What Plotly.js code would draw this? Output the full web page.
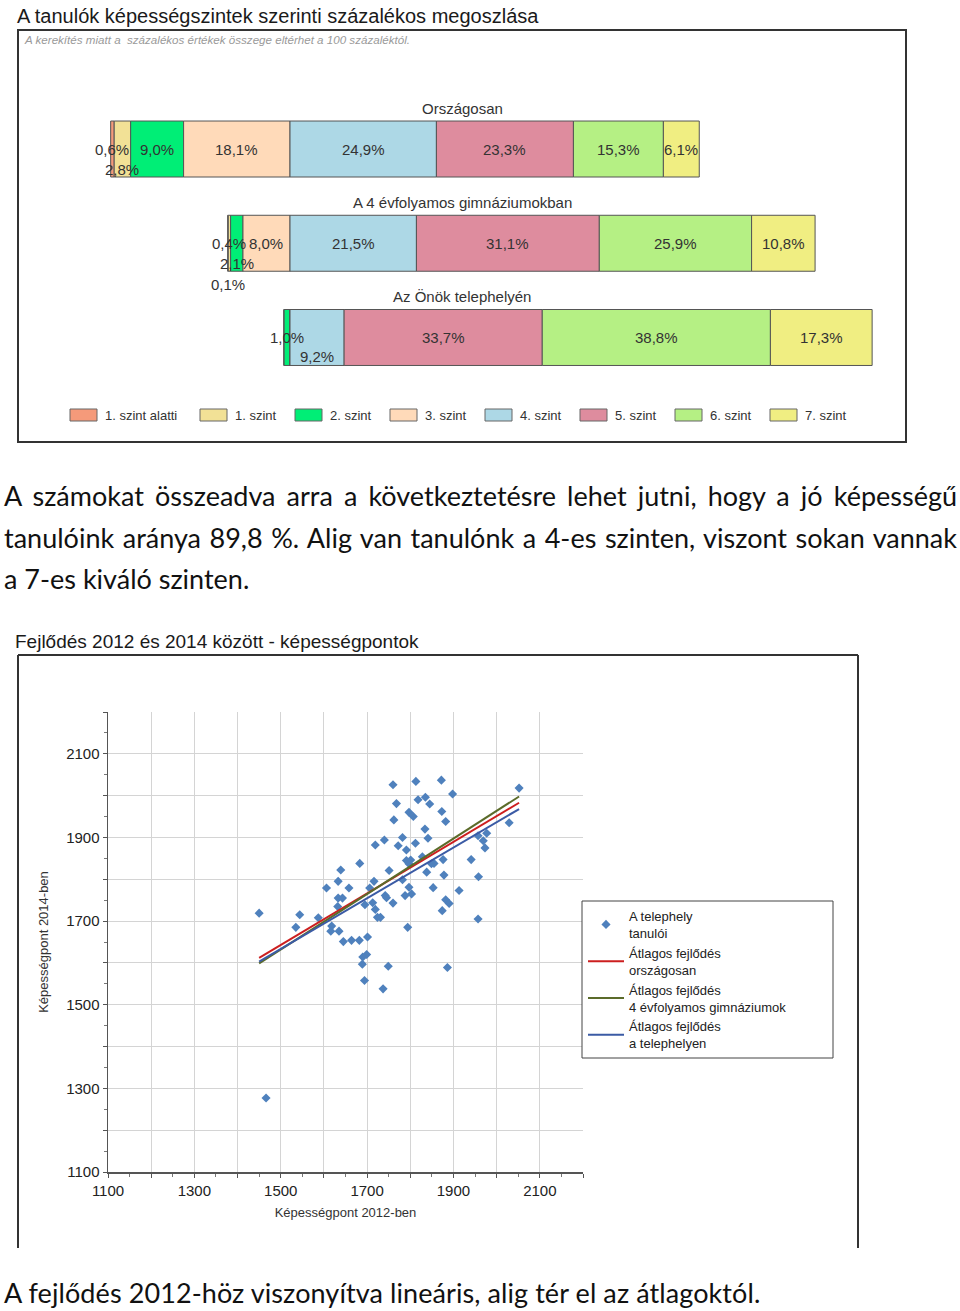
<!DOCTYPE html>
<html><head><meta charset="utf-8">
<script src="https://cdn.plot.ly/plotly-3.0.1.min.js"></script>
<style>
html,body{margin:0;padding:0;background:#fff;}
body{width:960px;height:1311px;position:relative;overflow:hidden;}
#c1{position:absolute;left:0;top:0;width:960px;height:450px;}
#c2{position:absolute;left:0;top:620px;width:960px;height:640px;}
.p{position:absolute;left:4px;width:953px;font-family:Lato,'Noto Sans',sans-serif;font-size:27px;line-height:41.5px;color:#111;}
.p span{white-space:nowrap;}
</style></head><body>
<div id="c1"></div>
<div class="p j" style="top:475px"><span>A számokat összeadva arra a következtetésre lehet jutni, hogy a jó képességű</span></div>
<div class="p j" style="top:516.5px"><span>tanulóink aránya 89,8 %. Alig van tanulónk a 4-es szinten, viszont sokan vannak</span></div>
<div class="p" style="top:558px"><span>a 7-es kiváló szinten.</span></div>
<div id="c2"></div>
<div class="p" style="top:1272px"><span style="letter-spacing:0.09px">A fejlődés 2012-höz viszonyítva lineáris, alig tér el az átlagoktól.</span></div>
<script>
// ---------- Chart 1 data ----------
const levels = ['1. szint alatti','1. szint','2. szint','3. szint','4. szint','5. szint','6. szint','7. szint'];
const groups = ['Országosan','A 4 évfolyamos gimnáziumokban','Az Önök telephelyén'];
const orszagos = [0.6, 2.8, 9.0, 18.1, 24.9, 23.3, 15.3, 6.1];
const gimn     = [0.1, 0.4, 2.1, 8.0, 21.5, 31.1, 25.9, 10.8];
const telep    = [0, 0, 1.0, 0, 9.2, 33.7, 38.8, 17.3];

// ---------- Chart 2 data ----------
const x2012 = [1450,1535,1544,1587,1606,1618,1616,1633,1639,1633,1643,1632,1635,1645,1658,1664,1682,1683,1701,1690,1699,1689,1694,1737,1749,1695,1706,1716,1713,1719,1724,1731,1719,1740,1742,1745,1751,1760,1760,1768,1762,1772,1782,1782,1788,1794,1791,1791,1797,1801,1797,1803,1797,1807,1812,1813,1818,1828,1834,1835,1845,1841,1838,1849,1855,1853,1872,1873,1882,1876,1878,1874,1882,1890,1886,1898,1913,1941,1957,1958,1957,1969,1973,1977,2029,2052,1466];
const y2014 = [1719,1685,1715,1708,1779,1688,1676,1795,1822,1755,1755,1735,1676,1651,1779,1654,1654,1838,1662,1614,1620,1597,1558,1538,1592,1739,1779,1795,1744,1728,1709,1709,1882,1894,1761,1756,1821,1743,2026,1981,1942,1880,1900,1799,1761,1685,1870,1845,1837,1846,1781,1765,1960,1950,1886,2034,1990,1854,1920,1996,1980,1898,1817,1837,1838,1780,2037,1962,1938,1847,1810,1725,1751,1742,1589,2004,1773,1847,1904,1806,1705,1892,1875,1910,1935,2018,1277];
const trendX = [1450, 2052];
const trendOrszagos = [1612, 1983];
const trendGimn = [1599, 1998];
const trendTelep = [1603, 1968];
const axisTicks = [1100,1200,1300,1400,1500,1600,1700,1800,1900,2000,2100,2200];
const axisTickLabels = ['1100','','1300','','1500','','1700','','1900','','2100',''];
const seriesNames = ['A telephely<br>tanulói','Átlagos fejlődés<br>országosan','Átlagos fejlődés<br>4 évfolyamos gimnáziumok','Átlagos fejlődés<br>a telephelyen'];

// ---------- styles ----------
const FONT = 'Arial, "Liberation Sans", sans-serif';
const levelColors = ['#F59A7A','#F2E196','#00EE76','#FFDAB9','#ADD8E6','#DE8C9E','#B5F084','#F0EE82'];
const labelDrop = [[0,20,0,0,0,0,0,0],[41,0,20,0,0,0,0,0],[0,0,0,0,19,0,0,0]];
const legendX1 = [70,200,295,390,485,580,675,770];

const rows = [orszagos, gimn, telep];
const pivot = 4;
function bases(vals){
  return vals.map((v,i)=>{
    let s=0;
    if(i<pivot){ for(let k=i;k<pivot;k++) s+=vals[k]; return -s; }
    for(let k=pivot;k<i;k++) s+=vals[k]; return s;
  });
}
const rowBases = rows.map(bases);
const fmt = v => v.toFixed(1).replace('.',',') + '%';

const traces1 = levels.map((lv,i)=>({
  type:'bar', orientation:'h', name:lv, y:groups,
  x: rows.map(r=>r[i]), base: rowBases.map(b=>b[i]),
  width:0.594, marker:{color:levelColors[i], line:{color:'#555', width:1}},
  hoverinfo:'skip', showlegend:false
}));

// paper helpers chart 1 (plot area = frame)
const P1 = {L:18,T:30,W:888,H:412};
const px1 = x => (x-P1.L)/P1.W;
const py1 = y => (P1.T+P1.H-y)/P1.H;

const ann1 = [];
rows.forEach((r,ri)=>{
  r.forEach((v,i)=>{
    if(v>0) ann1.push({x: rowBases[ri][i]+v/2, y: groups[ri], text: fmt(v), showarrow:false,
      yshift:-labelDrop[ri][i], font:{family:FONT,size:15,color:'#333'}});
  });
  ann1.push({xref:'paper', x:0.5, y:groups[ri], yshift:41, text:groups[ri], showarrow:false,
    font:{family:FONT,size:15,color:'#333'}});
});
ann1.push({xref:'paper', yref:'paper', x:px1(22), y:py1(39), xanchor:'left', yanchor:'middle', showarrow:false,
  text:'A kerekítés miatt a  százalékos értékek összege eltérhet a 100 százaléktól.',
  font:{family:FONT,size:11.6,color:'#9a9a9a',style:'italic'}});
const shapes1 = [{type:'rect', xref:'paper', yref:'paper', x0:0, x1:1, y0:0, y1:1, line:{color:'#333', width:2}}];
levels.forEach((lv,i)=>{
  const lx = legendX1[i];
  shapes1.push({type:'rect', xref:'paper', yref:'paper', x0:px1(lx), x1:px1(lx+27), y0:py1(421), y1:py1(409),
    fillcolor:levelColors[i], line:{color:'#666', width:1}});
  ann1.push({xref:'paper', yref:'paper', x:px1(lx+33), y:py1(415), xanchor:'left', yanchor:'middle', showarrow:false,
    text:lv, font:{family:FONT,size:13,color:'#333'}});
});

const layout1 = {
  width:960, height:450, margin:{l:18,r:54,t:30,b:8},
  paper_bgcolor:'#fff', plot_bgcolor:'rgba(0,0,0,0)', barmode:'overlay', showlegend:false,
  font:{family:FONT},
  title:{text:'A tanulók képességszintek szerinti százalékos megoszlása', x:17/960, xanchor:'left', y:1-16/450, yanchor:'middle',
    font:{family:FONT,size:20,color:'#1a1a1a'}},
  xaxis:{range:[-46.26,104.76], visible:false},
  yaxis:{type:'category', range:[3.109,-1.263], visible:false},
  annotations:ann1, shapes:shapes1
};
Plotly.newPlot('c1', traces1, layout1, {staticPlot:true, displayModeBar:false});

// ---------- Chart 2 ----------
const P2 = {L:108,T:92,W:475,H:460};
const px2 = x => (x-P2.L)/P2.W;
const py2 = y => (P2.T+P2.H-(y-620))/P2.H;

const traces2 = [
  {type:'scatter', mode:'markers', name:seriesNames[0], x:x2012, y:y2014,
    marker:{symbol:'diamond', size:7, color:'#4F81BD'}},
  {type:'scatter', mode:'lines', name:seriesNames[1], x:trendX, y:trendOrszagos, line:{color:'#CC1F1F', width:2}},
  {type:'scatter', mode:'lines', name:seriesNames[2], x:trendX, y:trendGimn, line:{color:'#5B6B2A', width:2}},
  {type:'scatter', mode:'lines', name:seriesNames[3], x:trendX, y:trendTelep, line:{color:'#3B5BA5', width:2}}
];
const axisCommon = {
  range:[1100,2200], tickmode:'array', tickvals:axisTicks, ticktext:axisTickLabels,
  ticks:'outside', ticklen:4, tickcolor:'#555', showline:true, linecolor:'#555', linewidth:1.5,
  showgrid:true, gridcolor:'#d4d4d4', gridwidth:1, zeroline:false,
  minor:{tickmode:'linear', tick0:1100, dtick:50, ticks:'outside', ticklen:3, tickcolor:'#777', showgrid:false},
  tickfont:{family:FONT,size:15,color:'#222'}
};
const layout2 = {
  width:960, height:640, margin:{l:108,r:377,t:92,b:88},
  paper_bgcolor:'#fff', plot_bgcolor:'#fff', font:{family:FONT},
  title:{text:'Fejlődés 2012 és 2014 között - képességpontok', x:15/960, xanchor:'left', y:1-21/640, yanchor:'middle',
    font:{family:FONT,size:19,color:'#1a1a1a'}},
  xaxis:Object.assign({}, axisCommon, {title:{text:'Képességpont 2012-ben', font:{family:FONT,size:13,color:'#333'}, standoff:10}}),
  yaxis:Object.assign({}, axisCommon, {title:{text:'Képességpont 2014-ben', font:{family:FONT,size:13,color:'#333'}, standoff:14}}),
  showlegend:true,
  legend:{x:px2(582), y:py2(900), xanchor:'left', yanchor:'top', bgcolor:'rgba(0,0,0,0)', borderwidth:1, bordercolor:'rgba(0,0,0,0)',
    font:{family:FONT,size:13,color:'#222'}, tracegroupgap:0, itemwidth:36},
  shapes:[
    {type:'rect', xref:'paper', yref:'paper', x0:px2(582), x1:px2(833), y0:py2(1058), y1:py2(901), fillcolor:'#fff', line:{color:'#444', width:1}, layer:'above'},
    {type:'line', xref:'paper', yref:'paper', x0:px2(18), x1:px2(858), y0:py2(655), y1:py2(655), line:{color:'#333',width:2}},
    {type:'line', xref:'paper', yref:'paper', x0:px2(18), x1:px2(18), y0:py2(655), y1:py2(1248), line:{color:'#333',width:2}},
    {type:'line', xref:'paper', yref:'paper', x0:px2(858), x1:px2(858), y0:py2(655), y1:py2(1248), line:{color:'#333',width:2}}
  ]
};
Plotly.newPlot('c2', traces2, layout2, {staticPlot:true, displayModeBar:false});

// justify text lines to full width
function fit(){
  document.querySelectorAll('.p.j').forEach(el=>{
    const s = el.querySelector('span');
    const n = (s.textContent.match(/ /g)||[]).length;
    s.style.wordSpacing = '0px';
    const w = s.getBoundingClientRect().width;
    s.style.wordSpacing = ((953 - w)/n) + 'px';
  });
}
if(document.fonts && document.fonts.ready) document.fonts.ready.then(fit); else fit();
fit();
</script>
</body></html>
